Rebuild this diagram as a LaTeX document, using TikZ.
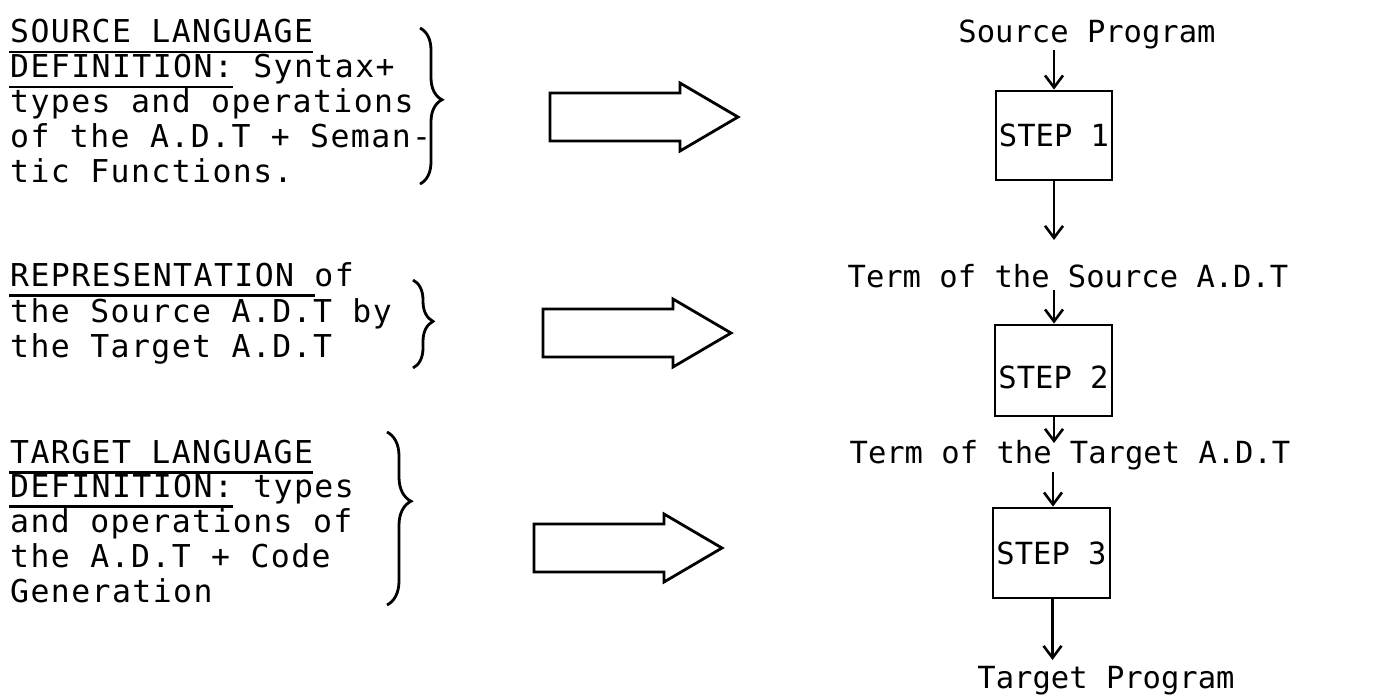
\documentclass[tikz,border=0pt]{standalone}
\usepackage{fontspec}
\usetikzlibrary{arrows.meta,decorations.pathreplacing}

% typewriter-like sans mono for all the text
\newfontfamily\lmono[LetterSpace=4.5]{DejaVu Sans Mono}
\newfontfamily\rmono{DejaVu Sans Mono}

% underline set a little below the baseline, as on a typewriter
\newcommand\ulx[1]{\setbox0=\hbox{#1}\rlap{\kern-1pt\vrule width \dimexpr\wd0+1pt\relax height -8pt depth 10.5pt}\box0\relax}

\tikzset{
  ltext/.style={anchor=base west, inner sep=0pt, font=\lmono\fontsize{31.5}{35}\selectfont},
  rtext/.style={anchor=base, inner sep=0pt, font=\rmono\fontsize{30.5}{35}\selectfont},
  stepbox/.style={draw, line width=2.8pt, inner sep=0pt, font=\rmono\fontsize{30.5}{35}\selectfont},
  flow/.style={line width=2.6pt, -{Straight Barb[length=12pt,width=18pt,line width=2.6pt]}},
  bracket/.style={line width=2.8pt, decorate},
  bigarrow/.pic={
    \draw[line width=2.8pt, line join=miter]
      (0,-24) -- (130,-24) -- (130,-34) -- (188,0) -- (130,34) -- (130,24) -- (0,24) -- cycle;
  }
}

\begin{document}
\begin{tikzpicture}[x=1pt,y=-1pt]
\fill[white] (0,0) rectangle (1373,695);
\useasboundingbox (0,0) rectangle (1373,695);

% ---- definitions on the left ----
\node[ltext] (a1) at (10,43)  {\ulx{SOURCE LANGUAGE}};
\node[ltext] (a2) at (10,78)  {\ulx{DEFINITION:} Syntax+};
\node[ltext] (a3) at (10,113) {types and operations};
\node[ltext] (a4) at (10,148) {of the A.D.T + Seman-};
\node[ltext] (a5) at (10,183) {tic Functions.};

\node[ltext] (b1) at (10,286) {\ulx{REPRESENTATION }of};
\node[ltext] (b2) at (10,322) {the Source A.D.T by};
\node[ltext] (b3) at (10,357) {the Target A.D.T};

\node[ltext] (c1) at (10,463) {\ulx{TARGET LANGUAGE}};
\node[ltext] (c2) at (10,497) {\ulx{DEFINITION:} types};
\node[ltext] (c3) at (10,532) {and operations of};
\node[ltext] (c4) at (10,567) {the A.D.T + Code};
\node[ltext] (c5) at (10,602) {Generation};

% ---- braces ----
\draw[bracket, decoration={brace, amplitude=22pt, aspect=0.46}] (420,28) -- (420,184);
\draw[bracket, decoration={brace, amplitude=20pt, aspect=0.47}] (413,280) -- (413,368);
\draw[bracket, decoration={brace, amplitude=24pt, aspect=0.40}] (387,432) -- (387,605);

% ---- block arrows ----
\pic at (550,117) {bigarrow};
\pic at (543,333) {bigarrow};
\pic at (534,548) {bigarrow};

% ---- translation chain on the right ----
\node[rtext] (src) at (1087,43) {Source Program};
\node[stepbox, minimum width=116pt, minimum height=89pt] (box1) at (1054,135.5) {STEP 1};
\node[rtext] (term1) at (1068,287) {Term of the Source A.D.T};
\node[stepbox, minimum width=117pt, minimum height=91pt] (box2) at (1053.5,370.5) {\raisebox{-7pt}[\height][\depth]{STEP 2}};
\node[rtext] (term2) at (1070,463) {Term of the Target A.D.T};
\node[stepbox, minimum width=117pt, minimum height=90pt] (box3) at (1051.5,553) {STEP 3};
\node[rtext] (tgt) at (1106,688) {Target Program};

\coordinate (srcout) at (1054,50);
\coordinate (t1in)   at (1054,240);
\coordinate (t1out)  at (1054,290);
\coordinate (t2in)   at (1054,443);
\coordinate (t2out)  at (1053,472);
\coordinate (tgin)   at (1052.5,660);

\draw[flow] (srcout) -- (srcout |- box1.north);
\draw[flow] (box1.south -| srcout) -- (t1in);
\draw[flow] (t1out) -- (t1out |- box2.north);
\draw[flow] (box2.south -| t2in) -- (t2in);
\draw[flow] (t2out) -- (t2out |- box3.north);
\draw[flow] (box3.south -| tgin) -- (tgin);
\end{tikzpicture}
\end{document}
